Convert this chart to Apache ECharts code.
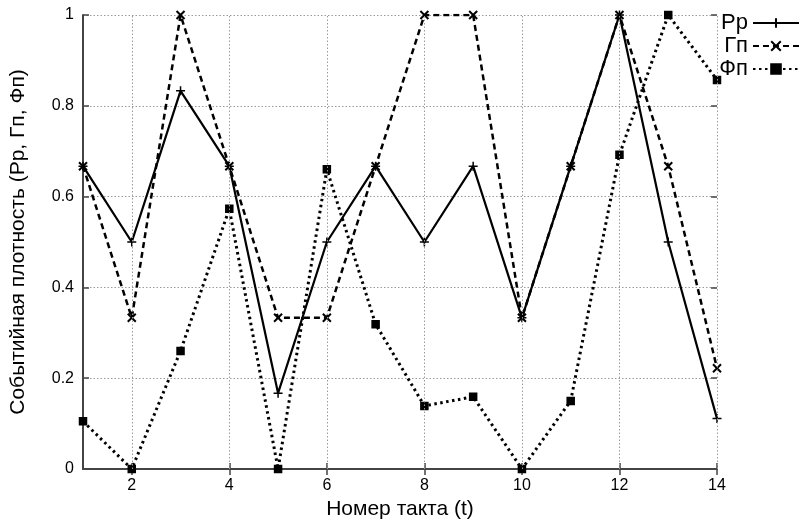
<!DOCTYPE html>
<html>
<head>
<meta charset="utf-8">
<script src="https://cdn.jsdelivr.net/npm/echarts@6/dist/echarts.min.js"></script>
<style>
  html, body { margin: 0; padding: 0; background: #fff; }
  #chart { width: 806px; height: 522px; }
</style>
</head>
<body>
<div id="chart"></div>
<script>
// Такты (t)
const steps = [1, 2, 3, 4, 5, 6, 7, 8, 9, 10, 11, 12, 13, 14];
// Событийные плотности по тактам
const seriesRp = [0.667, 0.5, 0.833, 0.667, 0.167, 0.5, 0.667, 0.5, 0.667, 0.333, 0.667, 1, 0.5, 0.111];
const seriesGp = [0.667, 0.333, 1, 0.667, 0.333, 0.333, 0.667, 1, 1, 0.333, 0.667, 1, 0.667, 0.222];
const seriesFp = [0.105, 0, 0.26, 0.573, 0, 0.66, 0.319, 0.139, 0.159, 0, 0.15, 0.692, 1, 0.857];
// Подписи делений
const xTicks = [2, 4, 6, 8, 10, 12, 14];
const yTicks = [0, 0.2, 0.4, 0.6, 0.8, 1];

const names = ['Рр', 'Гп', 'Фп'];

const pair = (vals) => steps.map((t, i) => [t, vals[i]]);

const FONT = '"Liberation Sans", Arial, sans-serif';
const AXIS_COLOR = '#444';
const GRID_COLOR = '#9a9a9a';

const plusPath = 'path://M0,5L10,5M5,0L5,10';
const crossPath = 'path://M0,0L10,10M10,0L0,10';
const boxPath = 'path://M1,1L9,1L9,9L1,9Z';

const chart = echarts.init(document.getElementById('chart'), null, { renderer: 'canvas' });

const baseX = {
  type: 'value', min: steps[0], max: steps[steps.length - 1],
  splitLine: { show: false }
};
const baseY = {
  type: 'value', min: yTicks[0], max: yTicks[yTicks.length - 1], interval: 0.2
};

chart.setOption({
  animation: false,
  backgroundColor: '#fff',
  grid: { left: 83, right: 89, top: 15, bottom: 53, outerBoundsMode: 'none', containLabel: false },
  legend: {
    orient: 'vertical',
    right: 1,
    top: 7,
    align: 'right',
    itemWidth: 46,
    itemHeight: 12,
    itemGap: 1,
    textStyle: { fontFamily: FONT, fontSize: 22, color: '#000' },
    data: names
  },
  xAxis: [
    Object.assign({}, baseX, {
      position: 'bottom',
      name: 'Номер такта (t)',
      nameLocation: 'middle',
      nameGap: 28,
      nameTextStyle: { fontFamily: FONT, fontSize: 21, color: '#000' },
      axisLine: { show: true, lineStyle: { color: AXIS_COLOR, width: 2 } },
      axisTick: { show: true, inside: true, length: 6, customValues: xTicks, lineStyle: { color: AXIS_COLOR, width: 1.5 } },
      axisLabel: { show: true, customValues: xTicks, fontFamily: FONT, fontSize: 16, color: '#000', margin: 9 }
    }),
    Object.assign({}, baseX, {
      position: 'top',
      axisLine: { show: false },
      axisTick: { show: true, inside: true, length: 6, customValues: xTicks, lineStyle: { color: AXIS_COLOR, width: 1.5 } },
      axisLabel: { show: false }
    })
  ],
  yAxis: [
    Object.assign({}, baseY, {
      position: 'left',
      name: 'Событийная плотность (Рр, Гп, Фп)',
      nameLocation: 'middle',
      nameRotate: 90,
      nameGap: 54,
      nameTextStyle: { fontFamily: FONT, fontSize: 21, color: '#000' },
      axisLine: { show: true, lineStyle: { color: AXIS_COLOR, width: 2 } },
      axisTick: { show: true, inside: true, length: 6, lineStyle: { color: AXIS_COLOR, width: 1.5 } },
      axisLabel: {
        show: true, fontFamily: FONT, fontSize: 16, color: '#000', margin: 9,
        formatter: (v) => String(Math.round(v * 10) / 10)
      },
      splitLine: { show: true, lineStyle: { color: GRID_COLOR, width: 1, type: [1.5, 2] } }
    }),
    Object.assign({}, baseY, {
      position: 'right',
      axisLine: { show: false },
      axisTick: { show: true, inside: true, length: 6, lineStyle: { color: AXIS_COLOR, width: 1.5 } },
      axisLabel: { show: false },
      splitLine: { show: false }
    })
  ],
  series: [
    {
      // вертикальные линии сетки на чётных тактах
      type: 'line', data: [], silent: true, legendHoverLink: false,
      markLine: {
        silent: true, symbol: 'none', label: { show: false },
        lineStyle: { color: GRID_COLOR, width: 1, type: [1.5, 2] },
        data: xTicks.map(v => ({ xAxis: v }))
      },
      z: 1
    },
    {
      name: names[0], type: 'line', data: pair(seriesRp),
      symbol: plusPath, symbolSize: 9,
      itemStyle: { color: '#000', borderColor: '#000', borderWidth: 1.5 },
      lineStyle: { color: '#000', width: 2.2, type: 'solid' },
      z: 4
    },
    {
      name: names[1], type: 'line', data: pair(seriesGp),
      symbol: crossPath, symbolSize: 8,
      itemStyle: { color: '#000', borderColor: '#000', borderWidth: 2 },
      lineStyle: { color: '#000', width: 2.5, type: [6, 4] },
      z: 3
    },
    {
      name: names[2], type: 'line', data: pair(seriesFp),
      symbol: boxPath, symbolSize: 7,
      itemStyle: { color: '#000', borderColor: '#000', borderWidth: 1.5 },
      lineStyle: { color: '#000', width: 3, type: [2.5, 3.5] },
      z: 2
    }
  ]
});
</script>
</body>
</html>
